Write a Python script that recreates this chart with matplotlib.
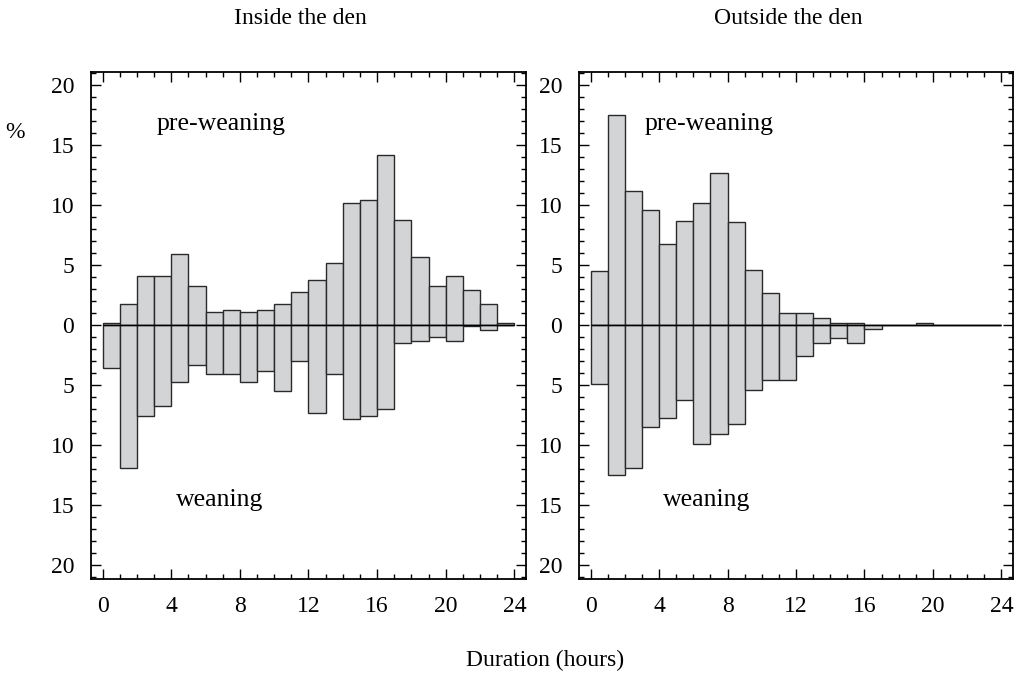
import numpy as np
import matplotlib
matplotlib.use("Agg")
import matplotlib.pyplot as plt
from matplotlib.ticker import MultipleLocator, FuncFormatter

plt.rcParams['font.family'] = ['Liberation Serif', 'DejaVu Serif']
plt.rcParams['mathtext.fontset'] = 'stix'

# ---- data (percent of bouts per 1-hour duration bin) ----
hours = list(range(24))  # bin start (hours)

inside_pre = [0.2, 1.8, 4.1, 4.1, 5.9, 3.3, 1.1, 1.3, 1.1, 1.3, 1.8, 2.8,
              3.8, 5.2, 10.2, 10.4, 14.2, 8.8, 5.7, 3.3, 4.1, 2.9, 1.8, 0.2]
inside_wean = [3.6, 11.9, 7.6, 6.7, 4.7, 3.3, 4.1, 4.1, 4.7, 3.8, 5.5, 3.0,
               7.3, 4.1, 7.8, 7.6, 7.0, 1.5, 1.3, 1.0, 1.3, 0.05, 0.4, 0.0]

outside_pre = [4.5, 17.5, 11.2, 9.6, 6.8, 8.7, 10.2, 12.7, 8.6, 4.6, 2.7, 1.0,
               1.0, 0.6, 0.2, 0.2, 0.0, 0.0, 0.0, 0.15, 0.0, 0.0, 0.0, 0.0]
outside_wean = [4.9, 12.5, 11.9, 8.5, 7.7, 6.25, 9.9, 9.1, 8.2, 5.4, 4.6, 4.6,
                2.6, 1.5, 1.1, 1.5, 0.35, 0.0, 0.0, 0.0, 0.0, 0.0, 0.0, 0.0]

panel_titles = ["Inside the den", "Outside the den"]
xticks = [0, 4, 8, 12, 16, 20, 24]
yticks = [-20, -15, -10, -5, 0, 5, 10, 15, 20]

FILL = '#d3d4d6'
EDGE = '#2a2a2a'

fig = plt.figure(figsize=(10.2, 6.78), dpi=100)
ax_l = fig.add_axes([91/1020, 1 - 579/678, 435/1020, 507/678])
ax_r = fig.add_axes([579/1020, 1 - 579/678, 434/1020, 507/678])

datasets = [(ax_l, inside_pre, inside_wean), (ax_r, outside_pre, outside_wean)]

for i, (ax, pre, wean) in enumerate(datasets):
    ax.bar(hours, pre, width=1.0, align='edge', color=FILL,
           edgecolor=EDGE, linewidth=1.0, zorder=2)
    ax.bar(hours, [-v for v in wean], width=1.0, align='edge', color=FILL,
           edgecolor=EDGE, linewidth=1.0, zorder=2)
    ax.hlines(0, 0, 24, color='black', linewidth=1.0, zorder=3)

    ax.set_xlim(-0.68, 24.68)
    ax.set_ylim(-21.15, 21.1)
    ax.set_xticks(xticks)
    ax.set_yticks(yticks)
    ax.xaxis.set_minor_locator(MultipleLocator(1))
    ax.yaxis.set_minor_locator(MultipleLocator(1))
    ax.yaxis.set_major_formatter(FuncFormatter(lambda v, p: f"{abs(int(round(v)))}"))
    ax.tick_params(which='both', direction='in', top=True, right=True,
                   width=1.0, labelsize=17, color='black')
    ax.tick_params(which='major', length=7, pad=12)
    ax.tick_params(which='minor', length=3.5)
    for sp in ax.spines.values():
        sp.set_linewidth(1.3)

    ax.text(6.9, 16.8, "pre-weaning", ha='center', va='center', fontsize=18.5)
    ax.text(6.8, -14.6, "weaning", ha='center', va='center', fontsize=18.5)

fig.text(300/1020, 1 - 18/678, panel_titles[0], ha='center', va='center', fontsize=17)
fig.text(788/1020, 1 - 18/678, panel_titles[1], ha='center', va='center', fontsize=17)
fig.text(15/1020, 1 - 133/678, "%", ha='center', va='center', fontsize=17)
fig.text(545/1020, 1 - 660/678, "Duration (hours)", ha='center', va='center', fontsize=17)

fig.savefig("out.png", dpi=100)
